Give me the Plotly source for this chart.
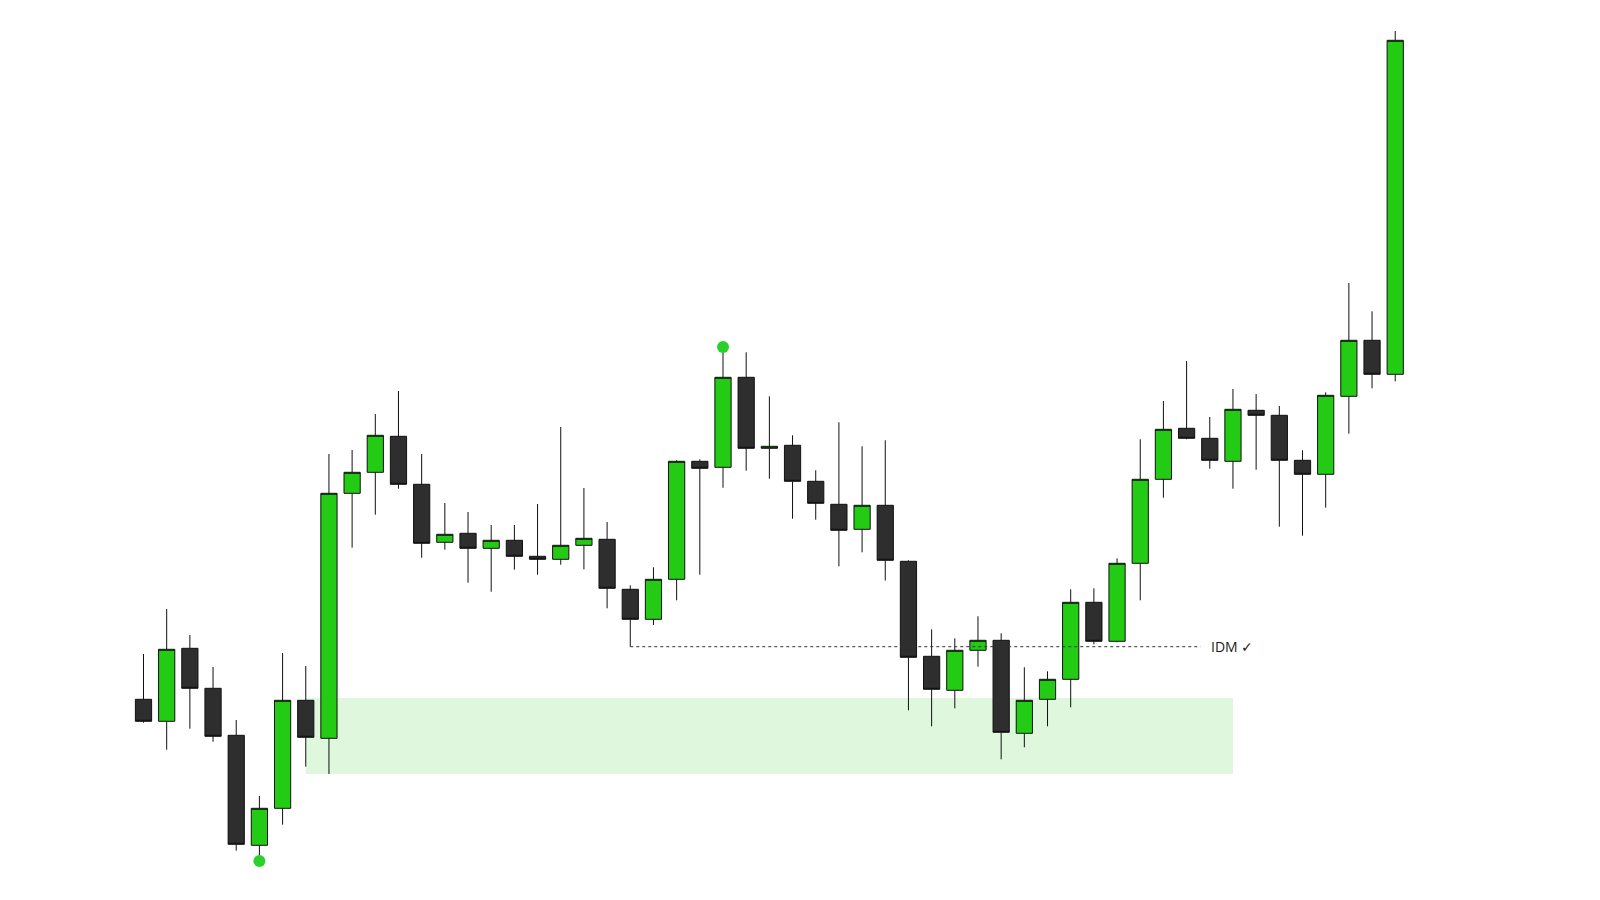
import plotly.graph_objects as go

# Candle data (arbitrary price units)
opens = [200.7, 178.7, 251.7, 211.7, 164.7, 54.7, 91.7, 199.7, 161.7, 406.7,
         427.7, 463.7, 415.7, 357.7, 366.7, 351.7, 359.7, 343.7, 340.7, 354.7,
         360.7, 310.7, 280.7, 320.7, 438.7, 432.7, 522.7, 451.7, 454.7, 418.7,
         395.7, 370.7, 394.7, 338.7, 243.7, 209.7, 249.7, 259.7, 166.7, 200.7,
         220.7, 297.7, 258.7, 336.7, 420.7, 471.7, 461.7, 438.7, 489.7, 484.7,
         439.7, 425.7, 503.7, 559.7, 525.7]
highs = [246.0, 291.0, 265.0, 233.0, 180.0, 104.0, 247.0, 234.0, 446.0, 450.0,
         486.0, 509.0, 446.0, 397.0, 388.0, 375.0, 375.0, 396.0, 473.0, 412.0,
         378.0, 314.7, 332.7, 439.7, 440.7, 553.0, 547.7, 503.7, 464.7, 429.7,
         477.7, 453.7, 459.7, 339.7, 270.7, 261.7, 283.7, 266.7, 232.7, 228.7,
         310.7, 311.7, 341.7, 460.7, 499.0, 539.0, 483.0, 511.0, 506.0, 494.0,
         449.7, 507.7, 617.0, 588.7, 869.0]
lows = [177.3, 150.3, 171.3, 158.3, 49.3, 39.0, 75.3, 133.3, 126.0, 352.3,
        385.3, 411.3, 342.3, 350.3, 317.3, 308.3, 330.3, 325.3, 335.3, 330.7,
        291.7, 253.3, 275.0, 299.7, 325.3, 412.3, 429.3, 421.3, 381.3, 380.3,
        333.7, 347.7, 319.5, 189.7, 173.7, 191.7, 233.3, 140.7, 152.7, 173.7,
        192.7, 255.7, 257.7, 299.7, 402.3, 460.7, 431.3, 411.3, 430.3, 373.3,
        364.3, 392.3, 466.3, 511.7, 518.7]
closes = [178.7, 250.7, 211.7, 163.7, 55.7, 91.7, 199.7, 162.7, 406.7, 427.7,
          464.7, 415.7, 356.7, 365.7, 351.7, 359.7, 343.7, 340.7, 354.7, 361.7,
          311.7, 280.7, 320.7, 438.7, 431.7, 522.7, 451.7, 453.7, 418.7, 396.7,
          369.7, 394.7, 339.7, 242.7, 210.7, 249.7, 259.7, 167.7, 199.7, 220.7,
          297.7, 258.7, 336.7, 420.7, 470.7, 461.7, 439.7, 490.7, 484.7, 439.7,
          425.7, 504.7, 559.7, 525.7, 859.7]
bars = list(range(len(opens)))

# Annotations
zone_start, zone_end = 7, 47
zone_low, zone_high = 126.0, 202.0
idm_bar, idm_end, idm_level = 21, 45.6, 253.3
idm_label = "IDM ✓"
swing_bars = [5, 25]
swing_prices = [39.0, 553.0]

fig = go.Figure()
fig.add_trace(go.Candlestick(
    x=bars, open=opens, high=highs, low=lows, close=closes,
    increasing=dict(fillcolor="#23cb15", line=dict(color="#111111", width=1)),
    decreasing=dict(fillcolor="#2e2e2e", line=dict(color="#111111", width=1)),
    whiskerwidth=0, showlegend=False, hoverinfo="skip",
))
fig.add_trace(go.Scatter(
    x=swing_bars, y=swing_prices, mode="markers",
    marker=dict(size=12, color="#2ad12a"), showlegend=False, hoverinfo="skip",
))

fig.add_shape(type="rect", xref="x", yref="y", x0=zone_start, x1=zone_end,
              y0=zone_low, y1=zone_high, fillcolor="#dff7dc",
              line=dict(width=0), layer="below")
fig.add_shape(type="line", xref="x", yref="y", x0=idm_bar, x1=idm_end,
              y0=idm_level, y1=idm_level,
              line=dict(color="#333333", width=1, dash="dot"))
fig.add_annotation(x=idm_end + 0.35, y=idm_level, xref="x", yref="y",
                   text=idm_label, showarrow=False, xanchor="left",
                   yanchor="middle",
                   font=dict(family="Open Sans", size=14, color="#1a1a1a"))

fig.update_layout(
    width=1600, height=900,
    margin=dict(l=0, r=0, t=0, b=0),
    paper_bgcolor="white", plot_bgcolor="white",
    boxgap=0.3, boxgroupgap=0,
    xaxis=dict(range=[-143.5 / 23.18, (1600 - 143.5) / 23.18],
               visible=False, rangeslider=dict(visible=False),
               showgrid=False, zeroline=False),
    yaxis=dict(range=[0, 900], visible=False, showgrid=False, zeroline=False),
)

fig.write_html("out.html")
